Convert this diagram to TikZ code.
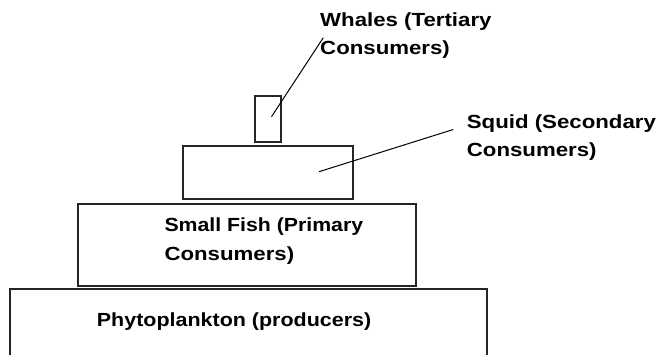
\documentclass[tikz,border=0pt]{standalone}
\usepackage{fontspec}
\setmainfont{Liberation Sans}
\begin{document}
\begin{tikzpicture}[x=1pt,y=-1pt,
  level/.style={draw=black!85,line width=1.3pt},
  pointer/.style={draw=black,line width=1pt},
  lbl/.style={anchor=base west,inner sep=0pt,align=left,
    font=\fontsize{19}{28.3}\selectfont\bfseries}]
\useasboundingbox (0,0) rectangle (660,355);
\clip (0,0) rectangle (660,355);
% pyramid levels
\draw[level] (255,96) rectangle (281,142);
\draw[level] (183,146) rectangle (353,199);
\draw[level] (78,204) rectangle (416,286);
\draw[level] (10,289) rectangle (487,380);
% labels (anchored at the baseline of the last line)
\node[lbl] (whales) at (320,55) {\scalebox{1.17}[1]{Whales (Tertiary}\\\scalebox{1.17}[1]{Consumers)}};
\node[lbl] (squid) at (466.7,156.7) {\scalebox{1.17}[1]{Squid (Secondary}\\\scalebox{1.17}[1]{Consumers)}};
\node[lbl] (fish) at (164.3,260) {\scalebox{1.12}[1]{Small Fish (Primary}\\\scalebox{1.17}[1]{Consumers)}};
\node[lbl] (phyto) at (96.7,326.7) {\scalebox{1.13}[1]{Phytoplankton (producers)}};
% pointers
\coordinate (wA) at (271.5,116.7);
\coordinate (wB) at (323.3,37.7);
\coordinate (sA) at (319,171.7);
\coordinate (sB) at (453.3,129.5);
\draw[pointer] (wA) -- (wB);
\draw[pointer] (sA) -- (sB);
\end{tikzpicture}
\end{document}
